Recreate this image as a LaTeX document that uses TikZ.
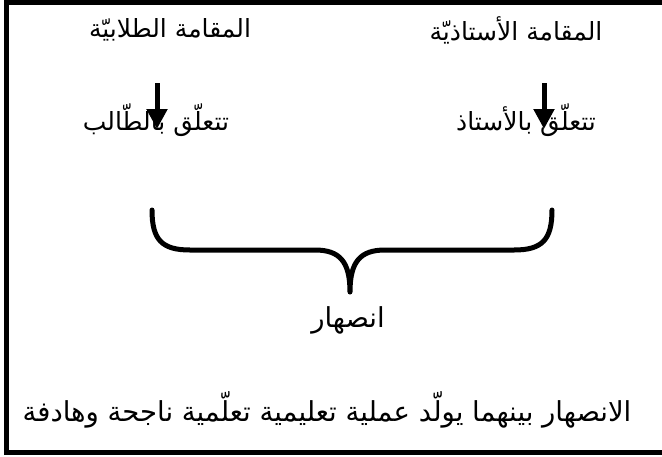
\documentclass[tikz,border=0pt]{standalone}
\usepackage{fontspec}
\usetikzlibrary{arrows.meta}
\newfontfamily\arabicfont[Script=Arabic]{DejaVu Sans}
\TeXXeTstate=1
\tikzset{
  lbl/.style={font=\arabicfont\fontsize{25}{30}\selectfont, inner sep=1pt},
  biglbl/.style={font=\arabicfont\fontsize{27.5}{32}\selectfont, inner sep=1pt},
  downarrow/.style={line width=5pt, -{Triangle[width=20pt,length=20pt]}},
  bracepath/.style={line width=5pt, line cap=round, line join=round},
  frame/.style={line width=5pt}
}
\begin{document}
\begin{tikzpicture}[x=1pt,y=-1pt]
\useasboundingbox (0,0) rectangle (662,456);
\fill[white] (0,0) rectangle (662,456);
\draw[frame] (6.5,2) rectangle (680,452);
\node[lbl] (ts) at (170,30) {\beginR المقامة الطلابيّة\endR};
\node[lbl] (tt) at (516,30) {\beginR المقامة الأستاذيّة\endR};
\node[lbl] (ls) at (156,120) {\beginR تتعلّق بالطّالب\endR};
\node[lbl] (lt) at (526,120) {\beginR تتعلّق بالأستاذ\endR};
\node[biglbl] (fu) at (348,320) {\beginR انصهار\endR};
\node[biglbl] (bt) at (327,410) {\beginR الانصهار بينهما يولّد عملية تعليمية تعلّمية ناجحة وهادفة\endR};
\coordinate (a1s) at (157,83);
\coordinate (a1e) at (157,129);
\coordinate (a2s) at (544,83);
\coordinate (a2e) at (544,129);
\draw[downarrow] (a1s) -- (a1e);
\draw[downarrow] (a2s) -- (a2e);
\coordinate (bl) at (152,210);
\coordinate (tip) at (350,292);
\coordinate (br) at (552,210);
\draw[bracepath] (bl) .. controls (152,240) and (162,250) .. (190,250) -- (315,250)
  .. controls (340,250) and (350,262) .. (tip)
  .. controls (350,262) and (360,250) .. (385,250) -- (514,250)
  .. controls (542,250) and (552,240) .. (br);
\end{tikzpicture}
\end{document}
